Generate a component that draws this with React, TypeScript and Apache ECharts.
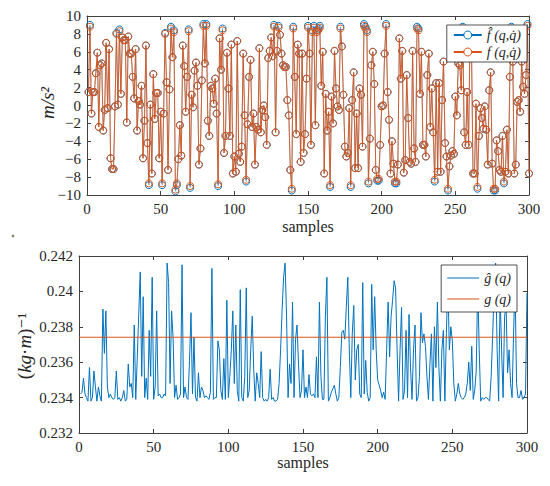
import React, { useEffect, useRef } from "react";
import * as echarts from "echarts";

// ---- Data ----
const fActual: number[] = [
  1.5, 8.8, -0.9, 1.5, 1.5, 3.6, 5.9, -2.4, 4.5, 4.7,
  -2.8, -0.5, 7.0, -0.3, 6.3, -5.9, -7.1, -7.1, -0.1, 8.0,
  0.1, 8.3, 1.3, 7.6, 7.3, 7.3, -1.9, 7.7, 5.8, 5.8,
  3.2, 0.8, 6.3, -2.8, 0.5, 0.1, 2.2, -5.9, -1.7, 6.7,
  -4.2, -8.7, 0.1, -7.6, 3.5, -1.5, 1.4, 1.4, -5.9, -0.7,
  -8.7, -0.9, 8.0, 2.6, -7.2, 1.8, 8.6, 5.4, 8.2, -9.4,
  -8.7, -6.0, -2.2, -5.6, 6.7, 4.4, -0.7, 3.2, 8.3, -9.0,
  1.2, -0.2, 3.9, 4.8, 2.2,
  -6.6, -4.8, 2.8, 8.9, 4.7, 8.9, -1.7, -3.4, 2.2, 1.9,
  0.2, 3.0, -0.9, -8.8, 7.5, 4.0, 8.4, -5.3, -3.4, 5.9,
  1.9, -3.4, 6.8, -7.6, -5.7, -7.4, 7.2, -5.4, -6.3,
  -4.6, 5.8, -1.1, -8.3, -2.1, 3.2, 5.1, -2.4, -0.9, -6.6,
  -2.4, -2.7, 6.4, -3.0, -0.5, 0.0, -1.3, -4.4, 5.3, 6.1,
  7.6, 5.5, 8.8, -3.0, 6.1, 8.7, 7.9, 5.8, 4.5, 4.3,
  4.3, 0.6, -1.1, -7.2, -9.3, 8.6, 3.2, -3.2, 6.8,
  5.8, -6.3, 5.8, -5.3, -3.2, 3.0, 8.7, 5.8, -4.4, 8.2,
  8.7, -2.2, 8.2, 8.4, 8.7, 2.2, 6.0, -7.6, 1.3,
  -2.8, -0.7, -8.9, 1.0, -2.0, 6.1, 1.9, -0.1, -0.5,
  8.6, 6.6, 1.2, -4.6, -5.7, -5.3, -0.3, -8.9, 0.6, 3.7,
  -7.0, -0.9, -7.0, 1.9, 1.2, -4.6, 8.9, 8.6, 8.2,
  -8.5,
  -3.7, 4.5, 6.0, 2.4, -7.2, -8.2, -8.2, -4.4, -0.1, 0.0,
  5.8, 8.9, 1.5, -1.6, -7.6, -4.0, -6.5, -8.5, -8.5, -6.6,
  7.5, 3.0, 6.1, -7.5, -6.1, 3.4, -1.4, -6.3, -6.5, 6.1,
  -4.8, -6.3, 8.6, 8.4, 1.3, 6.0, -4.4, -4.4, -5.7, 3.4,
  5.8, -2.4, 1.9, -3.0, -8.3, 2.5, -7.4, 2.5, -7.4, 0.6,
  4.9, -4.2, -5.7, -9.3, -6.8, -5.6, -5.1, -5.4, 1.0,
  -1.1, 4.7, 4.5, 1.7, 8.6, -3.0, -4.4, 1.5, -4.4, 8.2,
  6.1, -7.6, -7.6, 0.2, -9.1, -3.4, -0.3, -1.4, -2.6, -0.1,
  -2.7, -6.6, 1.7, 3.7, -6.5, -9.3, -9.3, -3.9, -5.1, -7.2,
  -7.4, -3.4, -8.5, -7.4, -2.7, -7.6, 3.2, 8.6, 4.9,
  -7.6, -6.6, 0.4, 0.6, -0.7, 4.9, 2.1, 1.3, 3.4, 8.9,
  -7.6,
];

const fEstimate: number[] = [
  1.5, 9.0, -0.9, 1.5, 1.5, 3.6, 5.9, -2.4, 4.5, 4.7,
  -2.8, -0.5, 7.0, -0.3, 6.3, -5.9, -7.1, -7.1, -0.1, 8.1,
  0.1, 8.5, 1.3, 7.6, 7.3, 7.3, -1.9, 7.7, 5.8, 5.8,
  3.2, 0.8, 6.3, -2.8, 0.5, 0.1, 2.2, -5.9, -1.7, 6.7,
  -4.2, -8.9, 0.1, -7.6, 3.5, -1.5, 1.4, 1.4, -5.9, -0.7,
  -8.9, -0.9, 8.1, 2.6, -7.2, 1.8, 8.8, 5.4, 8.4, -9.6,
  -8.9, -6.0, -2.2, -5.6, 6.7, 4.4, -0.7, 3.2, 8.5, -9.2,
  1.2, -0.2, 3.9, 4.8, 2.2,
  -6.6, -4.8, 2.8, 9.1, 4.7, 9.1, -1.7, -3.4, 2.2, 1.9,
  0.2, 3.0, -0.9, -9.0, 7.5, 4.0, 8.6, -5.3, -3.4, 5.9,
  1.9, -3.4, 6.8, -7.6, -5.7, -7.4, 7.2, -5.4, -6.3,
  -4.6, 5.8, -1.1, -8.5, -2.1, 3.2, 5.1, -2.4, -0.9, -6.6,
  -2.4, -2.7, 6.4, -3.0, -0.5, 0.0, -1.3, -4.4, 5.3, 6.1,
  7.6, 5.5, 9.0, -3.0, 6.1, 8.9, 7.9, 5.8, 4.5, 4.3,
  4.3, 0.6, -1.1, -7.2, -9.5, 8.8, 3.2, -3.2, 6.8,
  5.8, -6.3, 5.8, -5.3, -3.2, 3.0, 8.9, 5.8, -4.4, 8.4,
  8.9, -2.2, 8.4, 8.6, 8.9, 2.2, 6.0, -7.6, 1.3,
  -2.8, -0.7, -9.1, 1.0, -2.0, 6.1, 1.9, -0.1, -0.5,
  8.8, 6.6, 1.2, -4.6, -5.7, -5.3, -0.3, -9.1, 0.6, 3.7,
  -7.0, -0.9, -7.0, 1.9, 1.2, -4.6, 9.1, 8.8, 8.4,
  -8.7,
  -3.7, 4.5, 6.0, 2.4, -7.2, -8.4, -8.4, -4.4, -0.1, 0.0,
  5.8, 9.1, 1.5, -1.6, -7.6, -4.0, -6.5, -8.7, -8.7, -6.6,
  7.5, 3.0, 6.1, -7.5, -6.1, 3.4, -1.4, -6.3, -6.5, 6.1,
  -4.8, -6.3, 8.8, 8.6, 1.3, 6.0, -4.4, -4.4, -5.7, 3.4,
  5.8, -2.4, 1.9, -3.0, -8.5, 2.5, -7.4, 2.5, -7.4, 0.6,
  4.9, -4.2, -5.7, -9.5, -6.8, -5.6, -5.1, -5.4, 1.0,
  -1.1, 4.7, 4.5, 1.7, 8.8, -3.0, -4.4, 1.5, -4.4, 8.4,
  6.1, -7.6, -7.6, 0.2, -9.3, -3.4, -0.3, -1.4, -2.6, -0.1,
  -2.7, -6.6, 1.7, 3.7, -6.5, -9.5, -9.5, -3.9, -5.1, -7.2,
  -7.4, -3.4, -8.7, -7.4, -2.7, -7.6, 3.2, 8.8, 4.9,
  -7.6, -6.6, 0.4, 0.6, -0.7, 4.9, 2.1, 1.3, 3.4, 9.1,
  -7.6,
];

const gEstimate: number[] = [
  0.2342, 0.2343, 0.2351, 0.2342, 0.2340, 0.2338, 0.2357, 0.2338, 0.2340, 0.2355,
  0.2346, 0.2338, 0.2346, 0.2341, 0.2338, 0.2390, 0.2365, 0.2389, 0.2346, 0.2340,
  0.2342, 0.2340, 0.2339, 0.2340, 0.2355, 0.2339, 0.2340, 0.2338, 0.2340, 0.2344,
  0.2338, 0.2339, 0.2359, 0.2346, 0.2348, 0.2340, 0.2381, 0.2339, 0.2362, 0.2387,
  0.2411, 0.2352, 0.2397, 0.2340, 0.2351, 0.2339, 0.2378, 0.2352, 0.2408, 0.2339,
  0.2346, 0.2389, 0.2341, 0.2342, 0.2340, 0.2340, 0.2342, 0.2341, 0.2416, 0.2405,
  0.2348, 0.2389, 0.2374, 0.2340, 0.2347, 0.2339, 0.2340, 0.2342, 0.2415, 0.2340,
  0.2346, 0.2340, 0.2339, 0.2361, 0.2388, 0.2342, 0.2374, 0.2340, 0.2338, 0.2354,
  0.2340, 0.2346, 0.2344, 0.2340, 0.2341, 0.2340, 0.2339, 0.2343, 0.2413, 0.2339,
  0.2340, 0.2340, 0.2372, 0.2367, 0.2344, 0.2339, 0.2362, 0.2339, 0.2395,
  0.2340, 0.2352, 0.2367, 0.2389, 0.2348, 0.2381, 0.2344, 0.2338, 0.2401, 0.2340,
  0.2338, 0.2352, 0.2402, 0.2340, 0.2344, 0.2367, 0.2386, 0.2356, 0.2338, 0.2354,
  0.2348, 0.2340, 0.2366, 0.2340, 0.2338, 0.2339, 0.2338, 0.2340, 0.2356, 0.2339,
  0.2340, 0.2338, 0.2338, 0.2339, 0.2348, 0.2367, 0.2389, 0.2408, 0.2416, 0.2386,
  0.2340, 0.2359, 0.2348, 0.2394, 0.2340, 0.2373, 0.2381, 0.2359, 0.2340, 0.2344,
  0.2367, 0.2340, 0.2346, 0.2340, 0.2353, 0.2342, 0.2341, 0.2342, 0.2340, 0.2363,
  0.2340, 0.2394, 0.2352, 0.2339, 0.2339, 0.2386, 0.2408, 0.2338, 0.2340, 0.2343,
  0.2345, 0.2347, 0.2342, 0.2338, 0.2340, 0.2357, 0.2377, 0.2378, 0.2373, 0.2391,
  0.2408, 0.2367, 0.2340, 0.2376, 0.2392, 0.2350, 0.2367, 0.2370, 0.2342, 0.2340,
  0.2405, 0.2342, 0.2361, 0.2343, 0.2338, 0.2340, 0.2404, 0.2367, 0.2397, 0.2367,
  0.2350, 0.2347, 0.2344, 0.2340, 0.2343, 0.2339, 0.2367, 0.2394, 0.2363, 0.2386,
  0.2395, 0.2406, 0.2402, 0.2367, 0.2338, 0.2367, 0.2391, 0.2339, 0.2344, 0.2378,
  0.2340, 0.2387, 0.2357, 0.2339, 0.2367, 0.2381, 0.2338, 0.2340, 0.2352, 0.2388,
  0.2371, 0.2376, 0.2369, 0.2352, 0.2339, 0.2359, 0.2376, 0.2338, 0.2380, 0.2357,
  0.2394, 0.2357, 0.2338, 0.2367, 0.2378, 0.2338, 0.2376, 0.2406, 0.2367, 0.2380,
  0.2372, 0.2348, 0.2338, 0.2342, 0.2348, 0.2342, 0.2340, 0.2339, 0.2340, 0.2342,
  0.2348, 0.2360, 0.2344, 0.2369, 0.2339, 0.2344, 0.2355, 0.2405, 0.2367, 0.2338,
  0.2340, 0.2339, 0.2340, 0.2340, 0.2339, 0.2338, 0.2352, 0.2375, 0.2401, 0.2416,
  0.2367, 0.2338, 0.2397, 0.2367, 0.2340, 0.2386, 0.2392, 0.2354, 0.2367, 0.2348,
  0.2340, 0.2376, 0.2405, 0.2348, 0.2340, 0.2340, 0.2344, 0.2339, 0.2340, 0.2342,
  0.2399,
];

const gTrueValue = 0.23741;
const gTrueSpan: number[] = [0, 300];

const topYTicks = { min: -10, max: 10, interval: 2 };
const bottomYTicks = { min: 0.232, max: 0.242, interval: 0.002 };
const xTicks = { min: 0, max: 300, interval: 50 };

const NAME_FHAT = "f\u0302 (q,q\u0307)";
const NAME_F = "f (q,q\u0307)";
const NAME_GHAT = "g\u0302 (q)";
const NAME_G = "g (q)";

const BLUE = "#0072BD";
const ORANGE = "#D95319";
const AXIS = "#404040";
const TEXT = "#262626";
const SERIF = '"Liberation Serif", "DejaVu Serif", serif';

function axisBase(gridIndex: number, position: string, showLabel: boolean) {
  return {
    gridIndex,
    type: "value" as const,
    position,
    axisLine: { show: true, onZero: false, lineStyle: { color: AXIS, width: 1 } },
    axisTick: { show: true, inside: true, length: 4, lineStyle: { color: AXIS, width: 1 } },
    splitLine: { show: false },
    axisLabel: {
      show: showLabel,
      color: TEXT,
      fontFamily: SERIF,
      fontSize: 15,
      margin: 6,
    },
  };
}

export default function App() {
  const ref = useRef<HTMLDivElement>(null);

  useEffect(() => {
    if (!ref.current) return;
    const chart = echarts.init(ref.current, undefined, { renderer: "svg" });

    const fmtTop = (v: number) => String(Math.round(v)).replace("-", "\u2212");
    const fmtBottom = (v: number) => String(parseFloat(v.toFixed(3)));

    const xAxisTop = {
      ...axisBase(0, "bottom", true),
      ...xTicks,
      name: "samples",
      nameLocation: "middle",
      nameGap: 23,
      nameTextStyle: { fontFamily: SERIF, fontSize: 16, color: TEXT },
    };
    const xAxisTopMirror = { ...axisBase(0, "top", false), ...xTicks };
    const xAxisBottom = {
      ...axisBase(1, "bottom", true),
      ...xTicks,
      name: "samples",
      nameLocation: "middle",
      nameGap: 21,
      nameTextStyle: { fontFamily: SERIF, fontSize: 16, color: TEXT },
    };
    const xAxisBottomMirror = { ...axisBase(1, "top", false), ...xTicks };

    const yTop = { ...axisBase(0, "left", true), ...topYTicks };
    (yTop.axisLabel as any).formatter = fmtTop;
    const yTopMirror = { ...axisBase(0, "right", false), ...topYTicks };
    const yBottom = { ...axisBase(1, "left", true), ...bottomYTicks };
    (yBottom.axisLabel as any).formatter = fmtBottom;
    const yBottomMirror = { ...axisBase(1, "right", false), ...bottomYTicks };

    const legendCommon = {
      orient: "vertical" as const,
      backgroundColor: "#ffffff",
      borderColor: "#262626",
      borderWidth: 0.8,
      borderRadius: 0,
      textStyle: { fontFamily: SERIF, fontSize: 14, fontStyle: "italic" as const, color: TEXT },
    };

    chart.setOption({
      animation: false,
      backgroundColor: "#ffffff",
      grid: [
        { left: 87, top: 16, width: 442, height: 179 },
        { left: 79, top: 256, width: 448, height: 177 },
      ],
      xAxis: [xAxisTop, xAxisTopMirror, xAxisBottom, xAxisBottomMirror],
      yAxis: [yTop, yTopMirror, yBottom, yBottomMirror],
      legend: [
        {
          ...legendCommon,
          data: [
            { name: NAME_FHAT, itemStyle: { color: "#ffffff", borderColor: BLUE, borderWidth: 1 } },
            { name: NAME_F, itemStyle: { color: "#ffffff", borderColor: ORANGE, borderWidth: 1 } },
          ],
          right: 23,
          top: 25,
          padding: [3, 6, 3, 6],
          itemGap: 3,
          itemWidth: 28,
          itemHeight: 10,
        },
        {
          ...legendCommon,
          data: [
            { name: NAME_GHAT, icon: "rect" },
            { name: NAME_G, icon: "rect" },
          ],
          right: 33,
          top: 265,
          itemWidth: 32,
          itemHeight: 1.2,
          itemGap: 7,
          padding: [6, 6, 6, 6],
        },
      ],
      graphic: [
        {
          type: "text",
          x: 47,
          y: 103,
          rotation: Math.PI / 2,
          style: {
            text: "m/s\u00B2",
            font: `italic 19px ${SERIF}`,
            fill: TEXT,
            textAlign: "center",
            textVerticalAlign: "middle",
          },
        },
        {
          type: "text",
          x: 24,
          y: 346,
          rotation: Math.PI / 2,
          style: {
            text: "{n|(}{i|kg}{n|\u00B7}{i|m}{n|)\u207B\u00B9}",
            textAlign: "center",
            textVerticalAlign: "middle",
            fill: TEXT,
            rich: {
              n: { fontFamily: SERIF, fontSize: 19, fill: TEXT },
              i: { fontFamily: SERIF, fontSize: 19, fontStyle: "italic", fill: TEXT },
            },
          },
        },
        {
          type: "circle",
          shape: { cx: 13, cy: 236, r: 1.4 },
          style: { fill: "#8a8a70" },
        },
      ],
      series: [
        {
          name: NAME_FHAT,
          type: "line",
          xAxisIndex: 0,
          yAxisIndex: 0,
          data: fEstimate.map((v, i) => [i + 1, v]),
          symbol: "circle",
          symbolSize: 7,
          showSymbol: true,
          lineStyle: { color: BLUE, width: 0.4 },
          itemStyle: { color: "rgba(255,255,255,0)", borderColor: BLUE, borderWidth: 1 },
          z: 2,
        },
        {
          name: NAME_F,
          type: "line",
          xAxisIndex: 0,
          yAxisIndex: 0,
          data: fActual.map((v, i) => [i + 1, v]),
          symbol: "circle",
          symbolSize: 7,
          showSymbol: true,
          lineStyle: { color: ORANGE, width: 0.9 },
          itemStyle: { color: "rgba(255,255,255,0)", borderColor: ORANGE, borderWidth: 1 },
          z: 3,
        },
        {
          name: NAME_GHAT,
          type: "line",
          xAxisIndex: 2,
          yAxisIndex: 2,
          data: gEstimate.map((v, i) => [i + 1, v]),
          symbol: "none",
          lineStyle: { color: BLUE, width: 1 },
          itemStyle: { color: BLUE },
          z: 2,
        },
        {
          name: NAME_G,
          type: "line",
          xAxisIndex: 2,
          yAxisIndex: 2,
          data: gTrueSpan.map((x) => [x, gTrueValue]),
          symbol: "none",
          lineStyle: { color: ORANGE, width: 1 },
          itemStyle: { color: ORANGE },
          z: 3,
        },
      ],
    });

    return () => chart.dispose();
  }, []);

  return (
    <div
      ref={ref}
      style={{ position: "fixed", left: 0, top: 0, width: 550, height: 486 }}
    />
  );
}
